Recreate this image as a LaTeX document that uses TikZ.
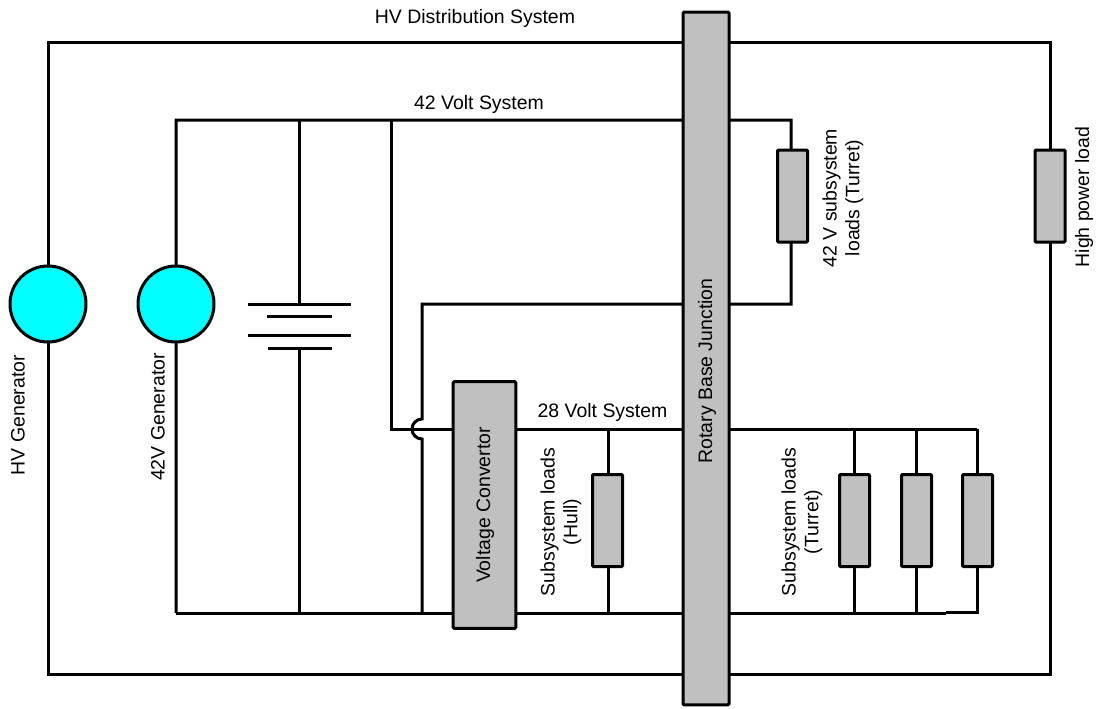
\documentclass[tikz,border=0pt]{standalone}
\usepackage{fontspec}
\setmainfont{Liberation Sans}
\definecolor{boxg}{RGB}{192,192,192}
\definecolor{gen}{RGB}{0,255,255}
\tikzset{
 wire/.style={line width=2.25pt,black,line join=miter},
 boxn/.style={draw=black,line width=2.25pt,fill=boxg,inner sep=0pt,rounded corners=0.8pt},
 gennode/.style={circle,draw=black,line width=2.25pt,fill=gen,minimum size=57pt,inner sep=0pt},
 lab/.style={font=\fontsize{14.6}{17}\selectfont,inner sep=0pt,align=center},
}
\begin{document}
\begin{tikzpicture}[x=0.75pt,y=-0.75pt]
\useasboundingbox (0,0) rectangle (1105,708);
% coordinates
\coordinate (hvtl) at (48,42); \coordinate (hvtr) at (1050,42);
\coordinate (hvbl) at (48,674); \coordinate (hvbr) at (1050,674);
\coordinate (vt) at (176,120); \coordinate (vb) at (176,613);
\coordinate (batt) at (299,120); \coordinate (battb) at (299,613);
\coordinate (j42) at (391,120);
\coordinate (j42b) at (391,429);
\coordinate (r42) at (791,120); \coordinate (r42b) at (791,304);
\coordinate (l42) at (422,304); \coordinate (l42b) at (422,613);
\coordinate (hopa) at (422,419); \coordinate (hopb) at (422,439);
\coordinate (w28) at (977,429); \coordinate (w28b) at (977,612.5);
\coordinate (wseam) at (946,613); \coordinate (wseamb) at (946,612.5);
% wires
\draw[wire] (hvbl) -- (hvtl) -- (hvtr) -- (hvbr) -- cycle;
\draw[wire] (vb) -- (vt) -- (r42) -- (r42b) -- (l42) -- (hopa)
  arc[start angle=-90,end angle=-270,radius=10] -- (l42b);
\draw[wire] (vb) -- (wseam);
\draw[wire] (wseamb) -- (w28b) -- (w28);
\draw[wire] (batt) -- (299,304);
\draw[wire] (299,349) -- (battb);
\draw[wire] (j42) -- (j42b) -- (w28);
\draw[wire] (608,429) -- (608,613);
\draw[wire] (854,429) -- (854,613);
\draw[wire] (916,429) -- (916,613);
% battery
\draw[wire] (248,304) -- (351,304);
\draw[wire] (267,316) -- (332,316);
\draw[wire] (248,335) -- (351,335);
\draw[wire] (268,348) -- (332,348);
% generators
\node[gennode] (g1) at (48,304) {};
\node[gennode] (g2) at (176,304) {};
% boxes
\node[boxn,minimum width=34.5pt,minimum height=519.5pt] (rot) at (706,358.5) {};
\node[boxn,minimum width=47pt,minimum height=185pt] (vc) at (484.5,505) {};
\node[boxn,minimum width=22.5pt,minimum height=69pt] (b1) at (792.5,196) {};
\node[boxn,minimum width=22.5pt,minimum height=69pt] (b2) at (1050,196) {};
\node[boxn,minimum width=22.5pt,minimum height=69pt] (b3) at (607.5,520.5) {};
\node[boxn,minimum width=22.5pt,minimum height=69pt] (b4) at (854.5,520.5) {};
\node[boxn,minimum width=22.5pt,minimum height=69pt] (b5) at (916.5,520.5) {};
\node[boxn,minimum width=22.5pt,minimum height=69pt] (b6) at (977.5,520.5) {};
% labels
\node[lab] (t1) at (475,18) {HV Distribution System};
\node[lab] (t2) at (479,104) {42 Volt System};
\node[lab] (t3) at (602.5,412) {28 Volt System};
\node[lab,rotate=90] (t4) at (707,371) {Rotary Base Junction};
\node[lab,rotate=90] (t5) at (485,505) {Voltage Convertor};
\node[lab,rotate=90] (t6) at (18,415) {HV Generator};
\node[lab,rotate=90] (t7) at (158,417) {42V Generator};
\node[lab,rotate=90] (t8) at (843,198) {42 V subsystem\\loads (Turret)};
\node[lab,rotate=90] (t9) at (1084,197) {High power load};
\node[lab,rotate=90] (t10) at (561,522) {Subsystem loads\\(Hull)};
\node[lab,rotate=90] (t11) at (802,522) {Subsystem loads\\(Turret)};
\end{tikzpicture}
\end{document}
